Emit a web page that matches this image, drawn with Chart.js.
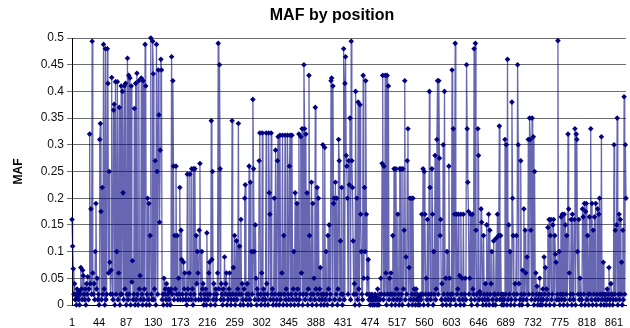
<!DOCTYPE html>
<html>
<head>
<meta charset="utf-8">
<title>MAF by position</title>
<script src="https://cdn.jsdelivr.net/npm/chart.js@4/dist/chart.umd.min.js"></script>
<style>
    body { margin: 0; background: #fff; }
    #wrap { position: relative; width: 630px; height: 328px; }
    #chartTitle {
        position: absolute; left: 232px; top: 6px; width: 200px;
        text-align: center; font: bold 16px "Liberation Sans", Arial, sans-serif; color: #000;
    }
</style>
</head>
<body>
<div id="wrap">
    <div id="chartTitle">MAF by position</div>
    <canvas id="mafChart" width="630" height="328"></canvas>
</div>
<script>
// MAF values, in position order (rows of 10)
const mafPart1 = [
    0.16, 0.11, 0.068, 0.02, 0.04, 0.01, 0.02, 0, 0.03, 0.015,
    0.01, 0.025, 0, 0.02, 0.07, 0.03, 0.01, 0.065, 0.055, 0.02,
    0.01, 0.03, 0, 0.04, 0.02, 0.053, 0.01, 0.03, 0.32, 0.04,
    0.18, 0.02, 0.494, 0.06, 0.02, 0.04, 0.01, 0.1, 0.19, 0.03,
    0.05, 0.01, 0.02, 0, 0.31, 0.34, 0.175, 0.01, 0.22, 0.02,
    0.488, 0.03, 0, 0.48, 0.01, 0.02, 0.48, 0.415, 0.06, 0.25,
    0.08, 0.02, 0.065, 0.426, 0.02, 0.01, 0.365, 0.376, 0, 0.418,
    0.02, 0.1, 0.418, 0.01, 0.06, 0.37, 0, 0.02, 0.41, 0.02,
    0.40, 0.21, 0.01, 0.41, 0.03, 0.415, 0, 0.02, 0.462, 0.01,
    0.43, 0.02, 0.425, 0, 0.41, 0.043, 0.083, 0.01, 0.02, 0.368,
    0, 0.415, 0.01, 0.434, 0.02, 0, 0.42, 0.03, 0.055, 0.01,
    0.425, 0.02, 0, 0.42, 0.01, 0.03, 0.488, 0.41, 0, 0.02,
    0.2, 0.01, 0.19, 0, 0.13, 0.5, 0.02, 0.01, 0.494, 0.433,
    0.01, 0.03, 0.27, 0, 0.488, 0.25, 0.02, 0.44, 0.356, 0.155,
    0.29, 0.46, 0.44, 0.01, 0.02, 0, 0.05, 0.02, 0.03, 0.01,
    0.04, 0, 0.02, 0.03, 0.01, 0.025, 0, 0.03, 0.465, 0.02,
    0.42, 0.26, 0.01, 0.13, 0.03, 0.26, 0.02, 0.13, 0.01, 0.05,
    0.02, 0.22, 0.01, 0.14, 0.085, 0.02, 0.01, 0.08, 0.03, 0.06,
    0.01, 0.02, 0, 0.245, 0.03, 0.01, 0.06, 0.245, 0.02, 0.01,
    0.255, 0.03, 0, 0.255, 0.02, 0.255, 0.01, 0.13, 0.04, 0.1,
    0.06, 0.01, 0.14, 0.265, 0.02, 0.01, 0.1, 0.03, 0.04, 0,
    0.02, 0.01, 0.03, 0, 0.135, 0.02, 0.01, 0.06, 0.08, 0.02
];
const mafPart2 = [
    0, 0.345, 0.085, 0.25, 0.01, 0.04, 0.02, 0, 0.03, 0.01,
    0.02, 0.06, 0.49, 0.03, 0.45, 0.255, 0.01, 0.04, 0.02, 0,
    0.03, 0.01, 0.09, 0.02, 0.04, 0.06, 0, 0.02, 0.01, 0.03,
    0.06, 0.02, 0, 0.01, 0.345, 0.02, 0.07, 0.01, 0.13, 0,
    0.02, 0.12, 0.01, 0.03, 0.34, 0.02, 0.11, 0, 0.16, 0.02,
    0.04, 0.01, 0, 0.03, 0.2, 0.225, 0.01, 0.02, 0.04, 0,
    0.02, 0.26, 0.01, 0.23, 0, 0.1, 0.02, 0.385, 0.255, 0.1,
    0.01, 0.15, 0.05, 0, 0.03, 0.02, 0.01, 0.27, 0.322, 0.02,
    0, 0.06, 0.322, 0.01, 0.03, 0.02, 0, 0.01, 0.322, 0.04,
    0.02, 0, 0.322, 0.21, 0.17, 0.01, 0.322, 0.02, 0.03, 0,
    0.01, 0.2, 0.02, 0.29, 0, 0.01, 0.27, 0.315, 0.02, 0,
    0.318, 0.01, 0.02, 0.06, 0.318, 0, 0.13, 0.02, 0.318, 0.01,
    0.03, 0, 0.318, 0.02, 0.01, 0.26, 0.318, 0, 0.02, 0.318,
    0.01, 0.03, 0.1, 0, 0.21, 0.02, 0.01, 0.19, 0.03, 0,
    0.32, 0.01, 0.02, 0.315, 0.06, 0.33, 0, 0.02, 0.45, 0.33,
    0.01, 0.32, 0.02, 0.21, 0, 0.03, 0.43, 0.13, 0.01, 0.02,
    0.23, 0, 0.19, 0.02, 0.05, 0.01, 0.37, 0.03, 0, 0.22,
    0.02, 0.2, 0.01, 0.03, 0.07, 0, 0.02, 0.01, 0.3, 0.02,
    0, 0.295, 0.01, 0.1, 0.02, 0, 0.13, 0.03, 0.15, 0.01,
    0.02, 0.42, 0.425, 0, 0.41, 0.19, 0.2, 0.01, 0.23, 0.02,
    0.2, 0, 0.03, 0.31, 0.27, 0.01, 0.12, 0.02, 0.22, 0,
    0.02, 0.48, 0.01, 0.415, 0.465, 0.28, 0.26, 0.2, 0.02, 0.27
];
const mafPart3 = [
    0.225, 0.35, 0.01, 0.494, 0.27, 0.22, 0.12, 0.02, 0.04, 0,
    0.4, 0.02, 0.2, 0.01, 0.38, 0.03, 0, 0.375, 0.17, 0.1,
    0.02, 0.01, 0.43, 0.05, 0.22, 0.1, 0.42, 0.17, 0.02, 0.05,
    0.085, 0.01, 0.02, 0, 0.015, 0.01, 0.02, 0, 0.01, 0.015,
    0, 0.02, 0.01, 0.015, 0, 0.03, 0.01, 0, 0.02, 0.01,
    0.05, 0.02, 0.265, 0.43, 0.01, 0.26, 0.02, 0.43, 0.06, 0,
    0.43, 0.02, 0.41, 0.01, 0.05, 0.02, 0.06, 0, 0.02, 0.13,
    0.01, 0.255, 0.02, 0, 0.255, 0.03, 0.01, 0.17, 0.02, 0,
    0.255, 0.01, 0.255, 0.02, 0, 0.255, 0.03, 0.14, 0.42, 0.01,
    0.09, 0.02, 0.27, 0.33, 0, 0.07, 0.2, 0.01, 0.2, 0.02,
    0, 0.2, 0.01, 0.03, 0.02, 0, 0.03, 0.01, 0.02, 0,
    0.01, 0.015, 0, 0.02, 0.01, 0.17, 0.02, 0.255, 0, 0.25,
    0.17, 0.02, 0.05, 0.01, 0.16, 0, 0.02, 0.4, 0.22, 0.01,
    0.02, 0.255, 0.17, 0, 0.1, 0.02, 0.28, 0.01, 0.03, 0.31,
    0.42, 0.02, 0.42, 0.275, 0.13, 0.16, 0.01, 0.04, 0, 0.3,
    0.02, 0.4, 0.01, 0.05, 0, 0.1, 0.02, 0.01, 0.26, 0.05,
    0, 0.02, 0.01, 0.44, 0.02, 0.33, 0.01, 0.17, 0.49, 0,
    0.17, 0.02, 0.03, 0.17, 0.01, 0.055, 0, 0.17, 0.02, 0.05,
    0.01, 0.17, 0, 0.02, 0.05, 0.01, 0.45, 0.33, 0.23, 0.175,
    0.02, 0.05, 0.17, 0.01, 0, 0.17, 0.03, 0.02, 0.48, 0.01,
    0.49, 0.14, 0.02, 0, 0.33, 0.28, 0.01, 0.025, 0.02, 0.18,
    0.155, 0.01, 0, 0.13, 0.02, 0.01, 0.04, 0, 0.15, 0.02
];
const mafPart4 = [
    0.01, 0.17, 0, 0.14, 0.02, 0.04, 0.1, 0.01, 0, 0.12,
    0.02, 0.02, 0, 0.125, 0.01, 0.17, 0.02, 0.13, 0.335, 0.01,
    0.13, 0.02, 0, 0.01, 0.02, 0, 0.01, 0.31, 0.02, 0.3,
    0, 0.46, 0.01, 0.15, 0.02, 0.1, 0, 0.01, 0.38, 0.2,
    0.13, 0.02, 0, 0.04, 0.01, 0.13, 0.02, 0.45, 0.3, 0.04,
    0, 0.01, 0.27, 0.02, 0, 0.065, 0.01, 0.18, 0.02, 0.14,
    0.06, 0.01, 0.09, 0, 0.31, 0.02, 0.35, 0.31, 0.14, 0.01,
    0.35, 0.02, 0.315, 0, 0.25, 0.01, 0.06, 0.02, 0.035, 0,
    0.01, 0.02, 0.05, 0, 0.01, 0.02, 0, 0.03, 0.01, 0.09,
    0.02, 0.07, 0, 0.03, 0.01, 0.145, 0.02, 0.16, 0, 0.13,
    0.16, 0.01, 0.02, 0.15, 0.16, 0, 0.13, 0.095, 0.08, 0.01,
    0.02, 0.495, 0.01, 0.1, 0, 0.02, 0.165, 0.01, 0.17, 0.02,
    0, 0.17, 0.01, 0.15, 0.02, 0.13, 0, 0.32, 0.18, 0.06,
    0.01, 0.02, 0.16, 0, 0.17, 0.02, 0.01, 0.16, 0.33, 0,
    0.32, 0.31, 0.1, 0.02, 0.16, 0.01, 0.05, 0.02, 0, 0.01,
    0.18, 0.165, 0.02, 0.19, 0, 0.175, 0.19, 0.01, 0.13, 0.02,
    0, 0.165, 0.02, 0.33, 0.01, 0.19, 0, 0.14, 0.02, 0.165,
    0.01, 0.19, 0, 0.02, 0.18, 0.01, 0.17, 0.2, 0.02, 0,
    0.315, 0.01, 0.02, 0.08, 0, 0.02, 0.01, 0.02, 0, 0.03,
    0.01, 0.02, 0.07, 0, 0.01, 0.04, 0.02, 0.02, 0, 0.01,
    0.3, 0.02, 0.14, 0.01, 0.15, 0.35, 0, 0.02, 0.17, 0.01,
    0.16, 0.02, 0.08, 0, 0.14, 0.01, 0.39, 0.02, 0.3, 0.2
];
const mafValues = mafPart1.concat(mafPart2, mafPart3, mafPart4);

// positions 1..N, one label shown every 43 positions
const positions = mafValues.map((v, i) => String(i + 1));
const labelStep = 43;

const yTicks = [0, 0.05, 0.1, 0.15, 0.2, 0.25, 0.3, 0.35, 0.4, 0.45, 0.5];

const ctx = document.getElementById('mafChart').getContext('2d');
const mafChart = new Chart(ctx, {
    type: 'line',
    data: {
        labels: positions,
        datasets: [{
            label: 'MAF',
            data: mafValues,
            borderColor: 'rgba(0,0,128,0.6)',
            borderWidth: 1.3,
            pointStyle: 'rectRot',
            pointRadius: 2.8,
            pointBackgroundColor: '#000080',
            pointBorderColor: '#000080',
            pointBorderWidth: 0,
            tension: 0,
            fill: false,
            clip: false
        }]
    },
    options: {
        responsive: false,
        animation: false,
        devicePixelRatio: 1,
        layout: { padding: { top: 38, left: 0, right: 0, bottom: 0 } },
        plugins: {
            legend: { display: false },
            title: { display: false },
            tooltip: { enabled: false }
        },
        scales: {
            x: {
                offset: false,
                grid: { display: false },
                border: { color: '#000', width: 1 },
                ticks: {
                    autoSkip: false,
                    maxRotation: 0,
                    minRotation: 0,
                    padding: 3,
                    color: '#000',
                    font: { family: '"Liberation Sans", Arial', size: 11 },
                    callback: function(val, idx) {
                        return idx % labelStep === 0 ? positions[idx] : '';
                    }
                },
                afterFit: function(scale) { scale.height = 23; }
            },
            y: {
                min: yTicks[0],
                max: yTicks[yTicks.length - 1],
                afterBuildTicks: function(scale) {
                    scale.ticks = yTicks.map(v => ({ value: v }));
                },
                grid: { color: '#6e6e6e', lineWidth: 1, tickLength: 5 },
                border: { color: '#000', width: 1 },
                ticks: {
                    padding: 3,
                    color: '#111',
                    font: { family: '"Liberation Sans", Arial', size: 12 },
                    callback: v => String(+v.toFixed(2))
                },
                title: {
                    display: true,
                    text: 'MAF',
                    color: '#000',
                    padding: { top: 11, bottom: 0 },
                    font: { family: '"Liberation Sans", Arial', size: 12, weight: 'bold' }
                },
                afterFit: function(scale) { scale.width = 72; }
            }
        }
    }
});
</script>
</body>
</html>
